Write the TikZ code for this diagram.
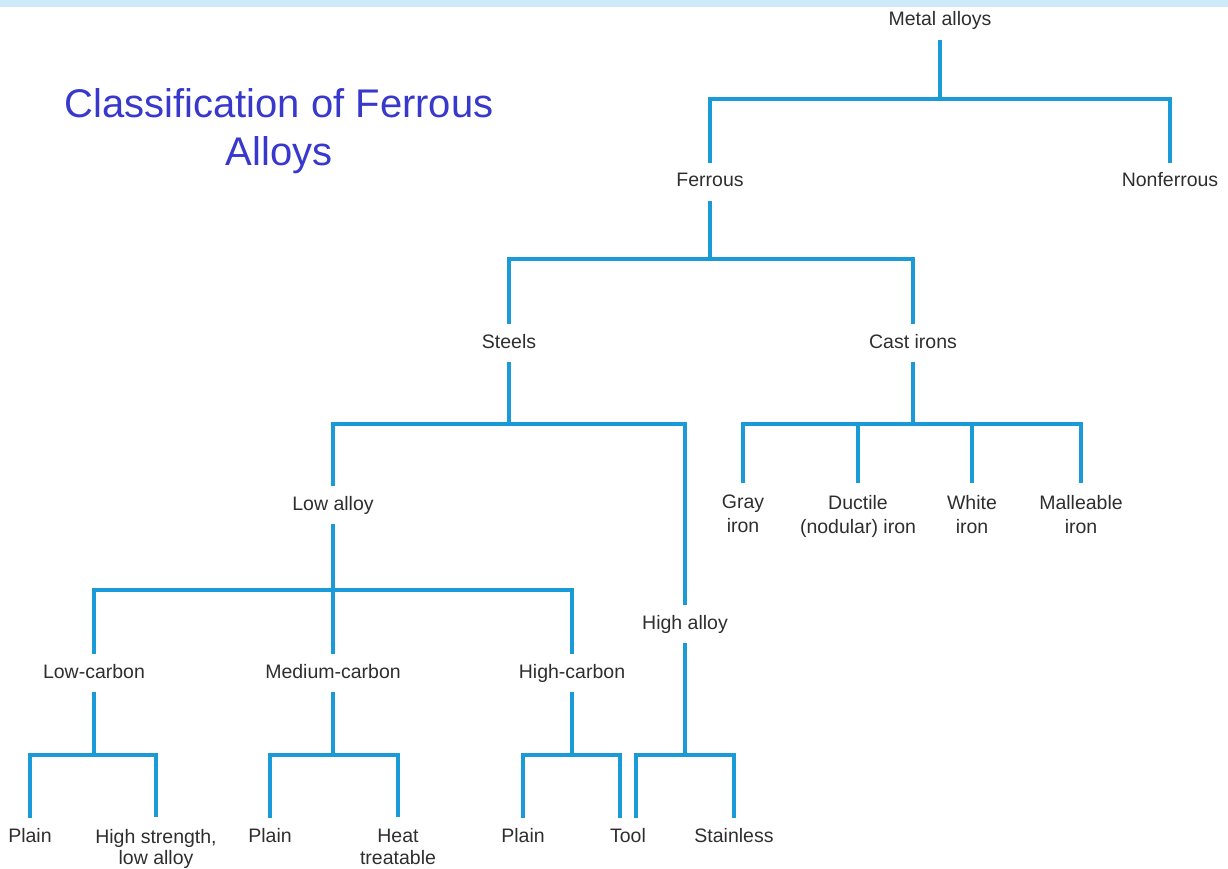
\documentclass[tikz,border=0pt]{standalone}
\usepackage{fontspec}
\setmainfont{Liberation Sans}
\definecolor{linkblue}{HTML}{1B9AD8}
\definecolor{txtgray}{HTML}{2E2E2E}
\definecolor{titleblue}{HTML}{3838CC}
\definecolor{bandblue}{HTML}{CDEAFB}
\begin{document}
\begin{tikzpicture}[x=1pt,y=-1pt,
  lbl/.style={font=\fontsize{19.5}{24}\selectfont, text=txtgray, text height=14pt, text depth=4pt, inner ysep=10pt, inner xsep=0pt, anchor=base},
  lbltwo/.style={font=\fontsize{19.5}{24}\selectfont, text=txtgray, align=center, inner ysep=12pt, inner xsep=0pt, anchor=north},
  lbltight/.style={lbltwo, font=\fontsize{19.5}{21.5}\selectfont},
  conn/.style={draw=linkblue, line width=3.2pt, line join=miter}]
\useasboundingbox (0,0) rectangle (1228,869);
\fill[bandblue] (0,0) rectangle (1228,7);
% title
\node[font=\fontsize{40}{48}\selectfont, text=titleblue, align=center, anchor=base, inner sep=0pt] (title) at (279,166) {Classification of Ferrous\\Alloys};
% bar levels
\coordinate (b1) at (0,99);
\coordinate (b2) at (0,259);
\coordinate (b3) at (0,424);
\coordinate (b4) at (0,590);
\coordinate (b5) at (0,755);
% nodes
\node[lbl] (metal) at (940,26) {Metal alloys};
\node[lbl] (ferrous) at (710,187) {Ferrous};
\node[lbl] (nonferrous) at (1170,187) {Nonferrous};
\node[lbl] (steels) at (509,348) {Steels};
\node[lbl] (castirons) at (913,348) {Cast irons};
\node[lbl] (lowalloy) at (333,510) {Low alloy};
\node[lbl] (highalloy) at (685,629) {High alloy};
\node[lbltwo] (gray) at (743,483) {Gray\\iron};
\node[lbltwo] (ductile) at (858,483) {Ductile\\(nodular) iron};
\node[lbltwo] (white) at (972,483) {White\\iron};
\node[lbltwo] (malleable) at (1081,483) {Malleable\\iron};
\node[lbl] (lowc) at (94,678) {Low-carbon};
\node[lbl] (medc) at (333,678) {Medium-carbon};
\node[lbl] (highc) at (572,678) {High-carbon};
\node[lbl] (plainA) at (30,842) {Plain};
\node[lbltight] (hsla) at (156,817) {High strength,\\low alloy};
\node[lbl] (plainB) at (270,842) {Plain};
\node[lbltight] (heat) at (398,817) {Heat\\treatable};
\node[lbl] (plainC) at (523,842) {Plain};
\node[lbl] (tool) at (628,842) {Tool};
\node[lbl] (stainless) at (734,842) {Stainless};
\coordinate (toolL) at ([xshift=-8pt]tool.north);
\coordinate (toolR) at ([xshift=8pt]tool.north);
% connectors
\draw[conn] (metal.south) -- (metal |- b1);
\draw[conn] (ferrous.north) -- (ferrous |- b1) -- (nonferrous |- b1) -- (nonferrous.north);
\draw[conn] (ferrous.south) -- (ferrous |- b2);
\draw[conn] (steels.north) -- (steels |- b2) -- (castirons |- b2) -- (castirons.north);
\draw[conn] (steels.south) -- (steels |- b3);
\draw[conn] (lowalloy.north) -- (lowalloy |- b3) -- (highalloy |- b3) -- (highalloy.north);
\draw[conn] (castirons.south) -- (castirons |- b3);
\draw[conn] (gray.north) -- (gray |- b3) -- (malleable |- b3) -- (malleable.north);
\draw[conn] (ductile.north) -- (ductile |- b3);
\draw[conn] (white.north) -- (white |- b3);
\draw[conn] (lowalloy.south) -- (lowalloy |- b4);
\draw[conn] (lowc.north) -- (lowc |- b4) -- (highc |- b4) -- (highc.north);
\draw[conn] (medc.north) -- (medc |- b4);
\draw[conn] (lowc.south) -- (lowc |- b5);
\draw[conn] (plainA.north) -- (plainA |- b5) -- (hsla |- b5) -- (hsla.north);
\draw[conn] (medc.south) -- (medc |- b5);
\draw[conn] (plainB.north) -- (plainB |- b5) -- (heat |- b5) -- (heat.north);
\draw[conn] (highc.south) -- (highc |- b5);
\draw[conn] (plainC.north) -- (plainC |- b5) -- (toolL |- b5) -- (toolL);
\draw[conn] (highalloy.south) -- (highalloy |- b5);
\draw[conn] (toolR) -- (toolR |- b5) -- (stainless |- b5) -- (stainless.north);
\end{tikzpicture}
\end{document}
